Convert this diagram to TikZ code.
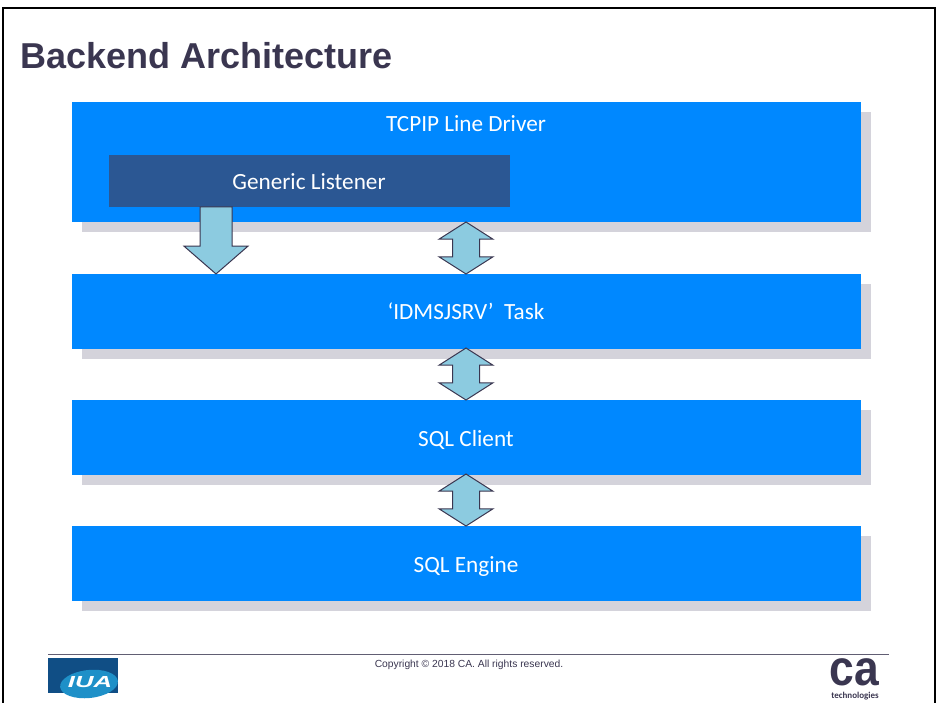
\documentclass[tikz,border=0pt]{standalone}
\usepackage{fontspec}
\setmainfont{Carlito}
\newfontfamily\arialfont{Liberation Sans}
\usetikzlibrary{shapes.arrows,shapes.geometric,shadows}
\definecolor{blockblue}{HTML}{0088FF}
\definecolor{listenerblue}{HTML}{2B5793}
\definecolor{shadowgrey}{HTML}{D4D3DB}
\definecolor{arrowblue}{HTML}{8CCBE0}
\definecolor{inkdark}{HTML}{3A3650}
\definecolor{logoblue}{HTML}{104E85}
\definecolor{logolight}{HTML}{1E90C8}
\tikzset{
  blockbox/.style={fill=blockblue,minimum width=789pt,inner sep=0pt,
    general shadow={fill=shadowgrey,shadow xshift=10pt,shadow yshift=-10pt}},
  blocktext/.style={text=white,font=\fontsize{23.2}{28}\selectfont,inner sep=0pt},
  twoway/.style={double arrow,rotate=90,fill=arrowblue,draw=inkdark,line width=1pt,inner xsep=0pt,inner ysep=13pt,
    minimum height=52pt,minimum width=53pt,double arrow head extend=13.5pt,double arrow tip angle=115},
}
\begin{document}
\begin{tikzpicture}[x=1pt,y=-1pt,>=latex,line join=miter]
\useasboundingbox (0,0) rectangle (937,703);
\clip (0,0) rectangle (937,703);
%%
\node (node_frame) at (469,359) [draw=black,line width=2.5pt,minimum width=932pt,minimum height=702pt,inner sep=0pt] {};
\node (node_title) at (206.5,55.5) [text=inkdark,font=\arialfont\bfseries\fontsize{36}{42}\selectfont,inner sep=0pt] {Backend Architecture};
%
\node (node_driver) at (466.5,162) [blockbox,minimum height=120pt] {};
\node (node_task) at (466.5,311.5) [blockbox,minimum height=75pt] {};
\node (node_client) at (466.5,437.5) [blockbox,minimum height=75pt] {};
\node (node_engine) at (466.5,563.5) [blockbox,minimum height=75pt] {};
\node (node_listener) at (309.5,181) [fill=listenerblue,minimum width=401pt,minimum height=52pt,inner sep=0pt] {};
%
\node (text_driver) at (466,124) [blocktext] {TCPIP Line Driver};
\node (text_listener) at (309,181.5) [blocktext] {Generic Listener};
\node (text_task) at (466,311.5) [blocktext] {‘IDMSJSRV’\ \ Task};
\node (text_client) at (466,439.5) [blocktext] {SQL Client};
\node (text_engine) at (466,566.5) [blocktext] {SQL Engine};
%
\node (arrow_down) at (216,233.5) [single arrow,rotate=-90,fill=arrowblue,draw=inkdark,line width=1pt,inner xsep=0pt,inner ysep=15.5pt,
  minimum height=67pt,minimum width=63pt,single arrow head extend=16pt,single arrow tip angle=98] {};
\node (arrow_one) at (466,248) [twoway] {};
\node (arrow_two) at (466,374) [twoway] {};
\node (arrow_three) at (466,500) [twoway] {};
%
\coordinate (rule_left) at (48,654.5);
\coordinate (rule_right) at (889,654.5);
\draw [inkdark!80,line width=1pt] (rule_left) -- (rule_right);
\node (node_copyright) at (469,664.5) [text=inkdark,font=\arialfont\fontsize{10.3}{12}\selectfont,inner sep=0pt] {Copyright © 2018 CA. All rights reserved.};
%
\node (logo_back) at (83,675.5) [fill=logoblue,minimum width=70pt,minimum height=35pt,inner sep=0pt] {};
\node (logo_oval) at (89,684) [ellipse,rotate=6,fill=logolight,minimum width=58pt,minimum height=28pt,inner sep=0pt] {};
\node (logo_text) at (90,682.5) [text=white,xscale=1.6,font=\arialfont\bfseries\itshape\fontsize{16}{18}\selectfont,inner sep=0pt] {IUA};
\node (logo_ca) at (854,672) [text=inkdark,xscale=1.2,yscale=1.35,font=\arialfont\bfseries\fontsize{37}{37}\selectfont,inner sep=0pt] {ca};
\node (logo_tech) at (855,696) [text=inkdark,font=\bfseries\fontsize{9}{10}\selectfont,inner sep=0pt] {technologies};
%
\end{tikzpicture}
\end{document}
